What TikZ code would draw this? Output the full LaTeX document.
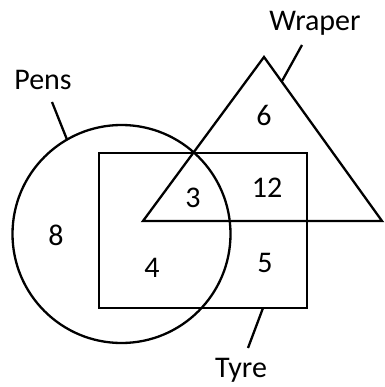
\documentclass[tikz,border=0pt]{standalone}
\usepackage{fontspec}
\setmainfont{Carlito}
\usetikzlibrary{positioning, calc}

\begin{document}
\begin{tikzpicture}[
    x=1pt, y=-1pt,
    set/.style={draw, line width=2.3pt, inner sep=0pt, outer sep=0pt},
    leader/.style={line width=2.3pt},
    num/.style={font=\fontsize{30}{34}\selectfont, inner sep=0pt},
    setname/.style={font=\fontsize{30}{34}\selectfont, inner sep=0pt}
]
\useasboundingbox (0,0) rectangle (384,387);

% Sets
\node[set, circle, minimum size=218pt] (pensset) at (121.5,234) {};
\node[set, rectangle, minimum width=208pt, minimum height=155pt] (tyreset) at (203,230.5) {};
\coordinate (apex) at (264,57);
\coordinate (leftc) at (143,221);
\coordinate (rightc) at (382,221);
\draw[set, line join=miter] (apex) -- (leftc) -- (rightc) -- cycle;

% Set names
\node[setname] (penslabel) at (43,80) {Pens};
\node[setname] (wraplabel) at (315,23) {Wraper};
\node[setname] (tyrelabel) at (241,370) {Tyre};

\coordinate (penstop) at (52,102);
\coordinate (wraptop) at (302,45);
\coordinate (tyretop) at (248,348);
\coordinate (wrapend) at ($(apex)!0.15!(rightc)$);
\coordinate (tyreend) at ($(tyreset.south)+(60,0)$);

% Leaders
\draw[leader] (penstop) -- (pensset.120);
\draw[leader] (wraptop) -- (wrapend);
\draw[leader] (tyretop) -- (tyreend);

% Counts
\node[num] (only6) at (264,115) {6};
\node[num] (wt12) at (267,188) {12};
\node[num] (pwt3) at (193,198) {3};
\node[num] (only8) at (56,235) {8};
\node[num] (pt4) at (152,268) {4};
\node[num] (only5) at (265,263) {5};

\end{tikzpicture}
\end{document}
